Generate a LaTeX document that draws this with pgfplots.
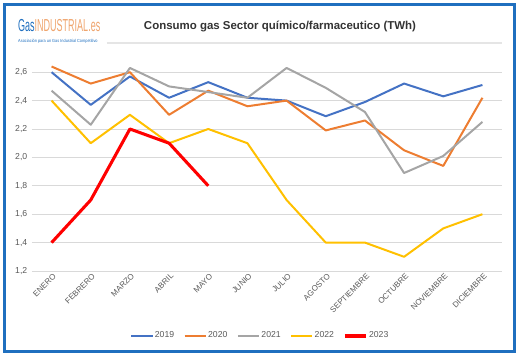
\documentclass[border=0pt]{standalone}
\usepackage{fontspec}
\setmainfont{Liberation Sans}
\usepackage{pgfplots}
\pgfplotsset{compat=1.18}
\definecolor{c19}{HTML}{4472C4}
\definecolor{c20}{HTML}{ED7D31}
\definecolor{c21}{HTML}{A5A5A5}
\definecolor{c22}{HTML}{FFC000}
\definecolor{c23}{HTML}{FF0000}
\definecolor{frameblue}{HTML}{1F6FBF}
\definecolor{logoorange}{HTML}{EFA56E}
\definecolor{txtgray}{HTML}{595959}
\begin{document}
\begin{tikzpicture}
\useasboundingbox (0pt,0pt) rectangle (390pt,267.75pt);
\draw[frameblue, line width=2.4pt] (3.375pt,264.375pt) rectangle (385.875pt,4.125pt);
\draw[gray!20, line width=1pt] (80pt,235.5pt) -- (376.5pt,235.5pt);
\node[anchor=base west, inner sep=0pt, xscale=0.52] at (13.5pt,243.75pt) {\fontsize{13}{13}\selectfont\textcolor{frameblue}{Gas}\textcolor{logoorange}{INDUSTRIAL.es}};
\node[anchor=base west, inner sep=0pt, xscale=0.88] at (13.5pt,235.5pt) {\fontsize{3.3}{3.3}\selectfont\textcolor{frameblue}{Asociación para un Gas Industrial Competitivo}};
\node[anchor=center, inner sep=0pt, text=black!80] at (210pt,247.5pt) {\fontsize{8.6}{8.6}\selectfont\bfseries Consumo gas Sector químico/farmaceutico (TWh)};
\begin{axis}[
  at={(24pt,64.5pt)}, anchor=south west,
  scale only axis, width=352.5pt, height=159.75pt,
  xmin=-0.5, xmax=11.5, ymin=1.2, ymax=2.7,
  axis line style={draw=none},
  major tick length=0pt,
  ytick={1.2,1.4,...,2.61},
  ymajorgrids, grid style={gray!30, line width=0.6pt},
  xtick={0,...,11},
  xticklabels={ENERO,FEBRERO,MARZO,ABRIL,MAYO,JUNIO,JULIO,AGOSTO,SEPTIEMBRE,OCTUBRE,NOVIEMBRE,DICIEMBRE},
  x tick label style={rotate=45, anchor=north east, font=\fontsize{6}{6}\selectfont, text=txtgray, xshift=3pt, yshift=2pt},
  y tick label style={font=\fontsize{6.5}{6.5}\selectfont, text=txtgray},
  /pgf/number format/.cd, use comma, fixed, fixed zerofill, precision=1, assume math mode=true,
  /pgfplots/.cd,
  legend style={at={(0.485,-0.305)}, anchor=center, draw=none, fill=none, legend columns=5,
    font=\fontsize{6.5}{6.5}\selectfont, text=txtgray,
    nodes={inner sep=1pt},
    /tikz/every even column/.append style={column sep=6pt}},
  legend image code/.code={\draw[#1] (0pt,0pt) -- (16pt,0pt);},
  every axis plot/.append style={line width=1.5pt, line join=round},
]
\addplot[c19] coordinates {(0,2.60) (1,2.37) (2,2.57) (3,2.42) (4,2.53) (5,2.42) (6,2.40) (7,2.29) (8,2.39) (9,2.52) (10,2.43) (11,2.51)};
\addlegendentry{2019}
\addplot[c20] coordinates {(0,2.64) (1,2.52) (2,2.60) (3,2.30) (4,2.47) (5,2.36) (6,2.40) (7,2.19) (8,2.26) (9,2.05) (10,1.94) (11,2.42)};
\addlegendentry{2020}
\addplot[c21] coordinates {(0,2.47) (1,2.23) (2,2.63) (3,2.50) (4,2.46) (5,2.42) (6,2.63) (7,2.49) (8,2.32) (9,1.89) (10,2.01) (11,2.25)};
\addlegendentry{2021}
\addplot[c22] coordinates {(0,2.4) (1,2.1) (2,2.3) (3,2.1) (4,2.2) (5,2.1) (6,1.7) (7,1.4) (8,1.4) (9,1.3) (10,1.5) (11,1.6)};
\addlegendentry{2022}
\addplot[c23, line width=2.3pt] coordinates {(0,1.4) (1,1.7) (2,2.2) (3,2.1) (4,1.8)};
\addlegendentry{2023}
\end{axis}
\end{tikzpicture}
\end{document}
